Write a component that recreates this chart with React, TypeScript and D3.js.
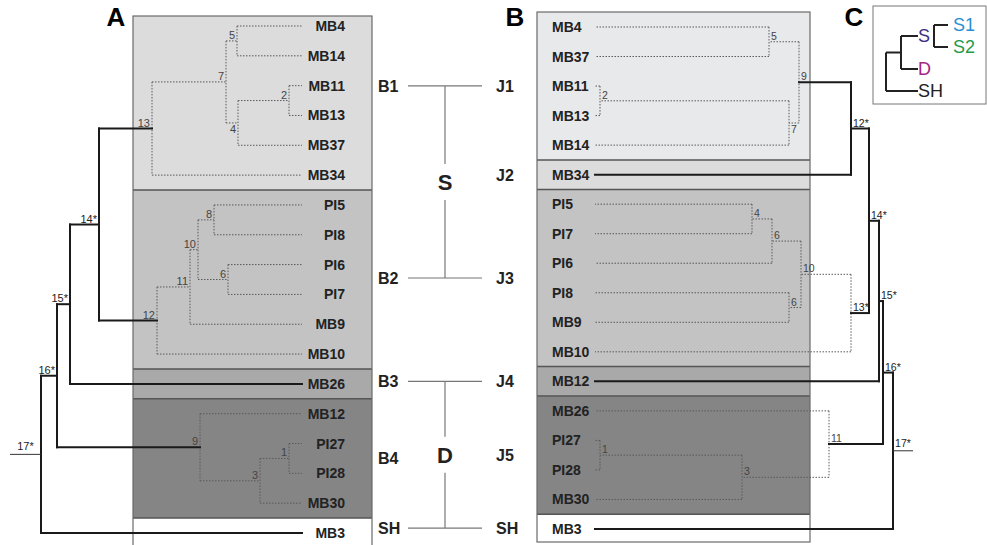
import * as d3 from 'd3';
import React from 'react';

// leaf order, top to bottom
const leavesA = ['MB4', 'MB14', 'MB11', 'MB13', 'MB37', 'MB34', 'PI5', 'PI8', 'PI6', 'PI7', 'MB9', 'MB10', 'MB26', 'MB12', 'PI27', 'PI28', 'MB30', 'MB3'];
const leavesB = ['MB4', 'MB37', 'MB11', 'MB13', 'MB14', 'MB34', 'PI5', 'PI7', 'PI6', 'PI8', 'MB9', 'MB10', 'MB12', 'MB26', 'PI27', 'PI28', 'MB30', 'MB3'];

// clades: label, children, node height, supported (solid) branches
const cladesA = [
  { id: 'a1', label: '1', kids: ['PI27', 'PI28'], h: 13, solid: false },
  { id: 'a2', label: '2', kids: ['MB11', 'MB13'], h: 13, solid: false },
  { id: 'a3', label: '3', kids: ['a1', 'MB30'], h: 42, solid: false },
  { id: 'a4', label: '4', kids: ['a2', 'MB37'], h: 64, solid: false },
  { id: 'a5', label: '5', kids: ['MB4', 'MB14'], h: 65, solid: false },
  { id: 'a6', label: '6', kids: ['PI6', 'PI7'], h: 74, solid: false },
  { id: 'a7', label: '7', kids: ['a5', 'a4'], h: 76, solid: false },
  { id: 'a8', label: '8', kids: ['PI5', 'PI8'], h: 88, solid: false },
  { id: 'a9', label: '9', kids: ['MB12', 'a3'], h: 102, solid: false },
  { id: 'a10', label: '10', kids: ['a8', 'a6'], h: 104, solid: false },
  { id: 'a11', label: '11', kids: ['a10', 'MB9'], h: 112, solid: false },
  { id: 'a12', label: '12', kids: ['a11', 'MB10'], h: 145, solid: false },
  { id: 'a13', label: '13', kids: ['a7', 'MB34'], h: 150, solid: false },
  { id: 'a14', label: '14*', kids: ['a13', 'a12'], h: 203, solid: true },
  { id: 'a15', label: '15*', kids: ['a14', 'MB26'], h: 232, solid: true },
  { id: 'a16', label: '16*', kids: ['a15', 'a9'], h: 245, solid: true },
  { id: 'a17', label: '17*', kids: ['a16', 'MB3'], h: 261, solid: true },
];
const cladesB = [
  { id: 'b1', label: '1', kids: ['PI27', 'PI28'], h: 5, solid: false },
  { id: 'b2', label: '2', kids: ['MB11', 'MB13'], h: 5, solid: false },
  { id: 'b3', label: '3', kids: ['b1', 'MB30'], h: 147, solid: false },
  { id: 'b4', label: '4', kids: ['PI5', 'PI7'], h: 157, solid: false },
  { id: 'b5', label: '5', kids: ['MB4', 'MB37'], h: 174, solid: false },
  { id: 'b6', label: '6', kids: ['b4', 'PI6'], h: 177, solid: false },
  { id: 'b7', label: '7', kids: ['b2', 'MB14'], h: 194, solid: false },
  { id: 'b8', label: '6', kids: ['PI8', 'MB9'], h: 194, solid: false },
  { id: 'b9', label: '9', kids: ['b5', 'b7'], h: 204, solid: false },
  { id: 'b10', label: '10', kids: ['b6', 'b8'], h: 206, solid: false },
  { id: 'b11', label: '11', kids: ['MB26', 'b3'], h: 234, solid: false },
  { id: 'b12', label: '12*', kids: ['b9', 'MB34'], h: 256, solid: true },
  { id: 'b13', label: '13*', kids: ['b10', 'MB10'], h: 256, solid: false },
  { id: 'b14', label: '14*', kids: ['b12', 'b13'], h: 274, solid: true },
  { id: 'b15', label: '15*', kids: ['b14', 'MB12'], h: 284, solid: true },
  { id: 'b16', label: '16*', kids: ['b15', 'b11'], h: 288, solid: true },
  { id: 'b17', label: '17*', kids: ['b16', 'MB3'], h: 298, solid: true },
];
const rootStubA = 292;
const rootStubB = 318;

const bandsA = [
  { name: 'B1', from: 'MB4', to: 'MB34' },
  { name: 'B2', from: 'PI5', to: 'MB10' },
  { name: 'B3', from: 'MB26', to: 'MB26' },
  { name: 'B4', from: 'MB12', to: 'MB30' },
  { name: 'SH', from: 'MB3', to: 'MB3' },
];
const bandsB = [
  { name: 'J1', from: 'MB4', to: 'MB14' },
  { name: 'J2', from: 'MB34', to: 'MB34' },
  { name: 'J3', from: 'PI5', to: 'MB10' },
  { name: 'J4', from: 'MB12', to: 'MB12' },
  { name: 'J5', from: 'MB26', to: 'MB30' },
  { name: 'SH', from: 'MB3', to: 'MB3' },
];

// correspondence between the two classifications
const links = [
  { left: 'B1', right: 'J1' },
  { left: 'B2', right: 'J3' },
  { left: 'B3', right: 'J4' },
  { left: 'SH', right: 'SH' },
];
const groups = [
  { name: 'S', from: 0, to: 1 },
  { name: 'D', from: 2, to: 3 },
];

// panel C summary tree
const legendLeaves = ['S1', 'S2', 'D', 'SH'];

const shade = d3.scaleOrdinal<string, string>()
  .domain(['B1', 'B2', 'B3', 'B4', 'SH', 'J1', 'J2', 'J3', 'J4', 'J5'])
  .range(['#dcdcdc', '#c3c3c3', '#a9a9a9', '#858585', '#ffffff', '#e8e9eb', '#dcdcdc', '#c3c3c3', '#a9a9a9', '#858585']);
const legendColor: Record<string, string> = { S: '#3b2f86', S1: '#2a8fd0', S2: '#1f9a4a', D: '#a3267f', SH: '#222' };

const FONT = 'Arial, "Liberation Sans", sans-serif';
const labelsBelow = new Set(['a4', 'b7']);

function buildTree(clades, x, y) {
  const byId = new Map(clades.map(c => [c.id, c]));
  const make = id => {
    const c = byId.get(id);
    return c ? { ...c, children: c.kids.map(make) } : { id, label: id, h: 0 };
  };
  const root = d3.hierarchy(make(clades[clades.length - 1].id));
  root.eachAfter((n: any) => {
    n.px = x(n.data.h);
    n.py = n.children ? d3.mean(n.children, (c: any) => c.py) : y(n.data.id);
  });
  return root;
}

function bandRects(bands, y, top, bottom) {
  return bands.map((b, i) => ({
    ...b,
    y0: i === 0 ? top : (y(bands[i - 1].to) + y(b.from)) / 2,
    y1: i === bands.length - 1 ? bottom : (y(b.to) + y(bands[i + 1].from)) / 2,
  }));
}

function Bands({ rects, x0, x1 }) {
  return (
    <g>
      {rects.map(r => (
        <rect key={r.name} x={x0} y={r.y0} width={x1 - x0} height={r.y1 - r.y0} fill={shade(r.name)} />
      ))}
      {rects.slice(1).map(r => (
        <line key={'s' + r.name} x1={x0} x2={x1} y1={r.y0} y2={r.y0} stroke="#555" strokeWidth={1.5} />
      ))}
      <rect x={x0} y={rects[0].y0} width={x1 - x0} height={rects[rects.length - 1].y1 - rects[0].y0}
        fill="none" stroke="#6a6a6a" strokeWidth={1.2} />
    </g>
  );
}

function Tree({ root, side, stubX }) {
  const inner = root.descendants().filter(n => n.children);
  const segs = [];
  inner.forEach((n: any) => {
    const ys = n.children.map(c => c.py);
    segs.push({ k: n.data.id + 'v', x1: n.px, x2: n.px, y1: d3.min(ys), y2: d3.max(ys), solid: n.data.solid });
    n.children.forEach(c => segs.push({ k: n.data.id + c.data.id, x1: n.px, x2: c.px, y1: c.py, y2: c.py, solid: n.data.solid }));
  });
  const dotted = segs.filter(s => !s.solid);
  const solid = segs.filter(s => s.solid);
  return (
    <g>
      {dotted.map(s => (
        <line key={s.k} x1={s.x1} x2={s.x2} y1={s.y1} y2={s.y2} stroke="#5a5a5a" strokeWidth={1} strokeDasharray="1.5,1.5" />
      ))}
      {solid.map(s => (
        <line key={s.k} x1={s.x1} x2={s.x2} y1={s.y1} y2={s.y2} stroke="#1a1a1a" strokeWidth={2} strokeLinecap="square" />
      ))}
      <line x1={root.px} x2={stubX} y1={root.py} y2={root.py} stroke="#333" strokeWidth={1} />
      {inner.map((n: any) => {
        const isRoot = n === root;
        const below = labelsBelow.has(n.data.id);
        const tx = isRoot ? (root.px + stubX) / 2 : side === 'left' ? n.px - 2 : n.px + 2;
        const ty = isRoot ? n.py - 4 : below ? n.py + 10 : n.py - 2;
        return (
          <text key={'l' + n.data.id} x={tx} y={ty} fontSize={side === 'left' ? 11 : 10.5}
            textAnchor={isRoot ? 'middle' : side === 'left' ? 'end' : 'start'}
            fill={n.data.solid || n.data.label.includes('*') ? '#222' : '#444'}>{n.data.label}</text>
        );
      })}
      {root.leaves().map((l: any) => (
        <text key={'t' + l.data.id} x={side === 'left' ? 345 : 552} y={l.py + 5} fontSize={14} fontWeight="bold"
          textAnchor={side === 'left' ? 'end' : 'start'} fill="#222">{l.data.id}</text>
      ))}
    </g>
  );
}

export default function App() {
  const xA = d3.scaleLinear().domain([0, rootStubA]).range([302, 10]);
  const xB = d3.scaleLinear().domain([0, rootStubB]).range([595, 913]);
  const yA = d3.scalePoint<string>().domain(leavesA).range([26, 533]);
  const yB = d3.scalePoint<string>().domain(leavesB).range([27, 529]);

  const treeA = buildTree(cladesA, xA, yA);
  const treeB = buildTree(cladesB, xB, yB);
  const rectsA = bandRects(bandsA, yA, 16, 550);
  const rectsB = bandRects(bandsB, yB, 12, 542);

  const centerA = new Map(rectsA.map(r => [r.name, (r.y0 + Math.min(r.y1, 545)) / 2]));
  const centerB = new Map(rectsB.map(r => [r.name, (r.y0 + r.y1) / 2]));
  const linkY = links.map(l => centerB.get(l.right));
  const leftY = new Map(rectsA.map(r => [r.name, centerA.get(r.name)]));
  links.forEach((l, i) => leftY.set(l.left, linkY[i]));

  const midX = 445;

  // panel C
  const yC = d3.scalePoint<string>().domain(legendLeaves).range([25, 91]);
  const sY = (yC('S1') + yC('S2')) / 2;
  const sdY = (sY + yC('D')) / 2;

  return (
    <svg width={987} height={545} style={{ position: 'absolute', left: 0, top: 0, fontFamily: FONT }}>
      <rect width={987} height={545} fill="#fff" />
      <Bands rects={rectsA} x0={133} x1={372} />
      <Bands rects={rectsB} x0={537} x1={810} />
      <Tree root={treeA} side="left" stubX={xA(rootStubA)} />
      <Tree root={treeB} side="right" stubX={xB(rootStubB)} />

      {/* middle: correspondence of the two partitions */}
      {rectsA.map(r => (
        <text key={'bl' + r.name} x={378} y={leftY.get(r.name) + 6} fontSize={16} fontWeight="bold" fill="#222">{r.name}</text>
      ))}
      {rectsB.map(r => (
        <text key={'jl' + r.name} x={496} y={centerB.get(r.name) + 6} fontSize={16} fontWeight="bold" fill="#222">{r.name}</text>
      ))}
      {linkY.map((y, i) => (
        <line key={'lk' + i} x1={408} x2={482} y1={y} y2={y} stroke="#777" strokeWidth={1.2} />
      ))}
      {groups.map(g => {
        const y0 = linkY[g.from], y1 = linkY[g.to], ym = (y0 + y1) / 2;
        return (
          <g key={g.name}>
            <line x1={midX} x2={midX} y1={y0} y2={ym - 18} stroke="#777" strokeWidth={1.2} />
            <line x1={midX} x2={midX} y1={ym + 18} y2={y1} stroke="#777" strokeWidth={1.2} />
            <text x={midX} y={ym + 8} fontSize={22} fontWeight="bold" textAnchor="middle" fill="#222">{g.name}</text>
          </g>
        );
      })}

      {/* panel letters */}
      <text x={116} y={26} fontSize={26} fontWeight="bold" textAnchor="middle">A</text>
      <text x={515} y={26} fontSize={26} fontWeight="bold" textAnchor="middle">B</text>
      <text x={854} y={26} fontSize={26} fontWeight="bold" textAnchor="middle">C</text>

      {/* panel C */}
      <rect x={873} y={6} width={113} height={98} fill="#fff" stroke="#777" strokeWidth={1} />
      <g stroke="#222" strokeWidth={2} fill="none">
        <line x1={886} x2={886} y1={sdY} y2={yC('SH')} />
        <line x1={886} x2={901} y1={sdY} y2={sdY} />
        <line x1={886} x2={918} y1={yC('SH')} y2={yC('SH')} />
        <line x1={901} x2={901} y1={sY} y2={yC('D')} />
        <line x1={901} x2={918} y1={sY} y2={sY} />
        <line x1={901} x2={918} y1={yC('D')} y2={yC('D')} />
        <line x1={934} x2={934} y1={yC('S1')} y2={yC('S2')} />
        <line x1={934} x2={948} y1={yC('S1')} y2={yC('S1')} />
        <line x1={934} x2={948} y1={yC('S2')} y2={yC('S2')} />
      </g>
      <text x={918} y={sY + 6} fontSize={18} fill={legendColor.S}>S</text>
      <text x={918} y={yC('D') + 6} fontSize={18} fill={legendColor.D}>D</text>
      <text x={918} y={yC('SH') + 6} fontSize={18} fill={legendColor.SH}>SH</text>
      <text x={953} y={yC('S1') + 6} fontSize={18} fill={legendColor.S1}>S1</text>
      <text x={953} y={yC('S2') + 6} fontSize={18} fill={legendColor.S2}>S2</text>
    </svg>
  );
}
